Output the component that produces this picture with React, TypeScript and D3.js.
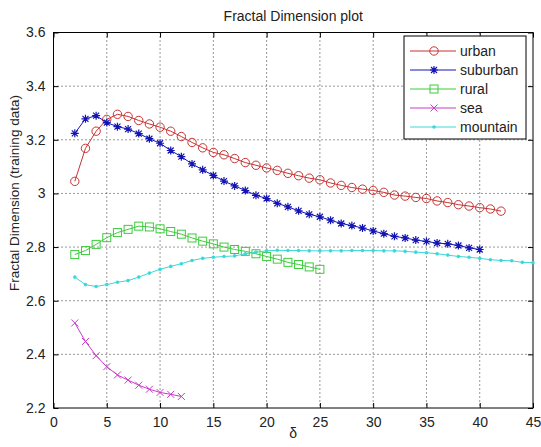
import React, { useEffect, useRef } from "react";
import * as d3 from "d3";

// values, one per integer delta
const urbanX = d3.range(2, 43);
const urban = [
    3.045, 3.168, 3.232, 3.276, 3.295, 3.287, 3.272, 3.259, 3.247, 3.232,
    3.212, 3.19, 3.17, 3.153, 3.144, 3.13, 3.115, 3.105, 3.095, 3.086,
    3.075, 3.066, 3.057, 3.051, 3.039, 3.03, 3.022, 3.016, 3.011, 3.004,
    2.994, 2.99, 2.985, 2.981, 2.972, 2.966, 2.958, 2.953, 2.947, 2.942,
    2.934
];
const suburbanX = d3.range(2, 41);
const suburban = [
    3.224, 3.278, 3.29, 3.264, 3.249, 3.24, 3.223, 3.204, 3.187, 3.16,
    3.137, 3.11, 3.088, 3.067, 3.046, 3.028, 3.011, 2.993, 2.981, 2.963,
    2.95, 2.935, 2.922, 2.913, 2.9, 2.888, 2.88, 2.871, 2.86, 2.85,
    2.84, 2.834, 2.826, 2.821, 2.815, 2.812, 2.806, 2.797, 2.791
];
const ruralX = d3.range(2, 26);
const rural = [
    2.772, 2.787, 2.81, 2.835, 2.854, 2.866, 2.878, 2.875, 2.868, 2.858,
    2.848, 2.834, 2.822, 2.812, 2.8, 2.791, 2.784, 2.775, 2.765, 2.755,
    2.743, 2.735, 2.726, 2.717
];
const seaX = d3.range(2, 13);
const sea = [2.517, 2.448, 2.395, 2.354, 2.323, 2.304, 2.285, 2.27, 2.258, 2.251, 2.243];
const mountainX = d3.range(2, 46);
const mountain = [
    2.688, 2.66, 2.653, 2.66, 2.669, 2.675, 2.688, 2.703, 2.717, 2.728,
    2.738, 2.75, 2.758, 2.762, 2.765, 2.767, 2.775, 2.781, 2.786, 2.788,
    2.787, 2.787, 2.786, 2.786, 2.786, 2.786, 2.787, 2.787, 2.787, 2.786,
    2.786, 2.784, 2.781, 2.779, 2.775, 2.77, 2.765, 2.762, 2.758, 2.753,
    2.75, 2.749, 2.743, 2.742
];

const xTicks = d3.range(0, 46, 5);
const yTicks = [2.2, 2.4, 2.6, 2.8, 3, 3.2, 3.4, 3.6];

const seriesList = [
    { name: "urban", xs: urbanX, ys: urban, color: "#c83232", marker: "circle" },
    { name: "suburban", xs: suburbanX, ys: suburban, color: "#1414b4", marker: "star" },
    { name: "rural", xs: ruralX, ys: rural, color: "#3ccc3c", marker: "square" },
    { name: "sea", xs: seaX, ys: sea, color: "#c83cc8", marker: "cross" },
    { name: "mountain", xs: mountainX, ys: mountain, color: "#3cd8d8", marker: "dot" },
];

const FONT = "Liberation Sans, Arial, sans-serif";

const drawMarker = (g: any, kind: string, cx: number, cy: number, color: string) => {
    if (kind === "circle") {
        g.append("circle").attr("cx", cx).attr("cy", cy).attr("r", 4.2)
            .attr("fill", "none").attr("stroke", color).attr("stroke-width", 1);
    } else if (kind === "square") {
        g.append("rect").attr("x", cx - 4).attr("y", cy - 4).attr("width", 8).attr("height", 8)
            .attr("fill", "none").attr("stroke", color).attr("stroke-width", 1);
    } else if (kind === "cross") {
        const s = 3.5;
        g.append("path").attr("d", `M${cx - s},${cy - s}L${cx + s},${cy + s}M${cx - s},${cy + s}L${cx + s},${cy - s}`)
            .attr("stroke", color).attr("stroke-width", 1);
    } else if (kind === "star") {
        const s = 4, d = 3;
        g.append("path")
            .attr("d", `M${cx - s},${cy}L${cx + s},${cy}M${cx},${cy - s}L${cx},${cy + s}M${cx - d},${cy - d}L${cx + d},${cy + d}M${cx - d},${cy + d}L${cx + d},${cy - d}`)
            .attr("stroke", color).attr("stroke-width", 1.2);
    } else {
        g.append("circle").attr("cx", cx).attr("cy", cy).attr("r", 1.8).attr("fill", color);
    }
};

const FractalChart: React.FC = () => {
    const svgRef = useRef<SVGSVGElement>(null);

    useEffect(() => {
        if (!svgRef.current) return;
        const W = 541, H = 447;
        const margin = { top: 32.5, right: 8, bottom: 39, left: 53.5 };
        const width = W - margin.left - margin.right;
        const height = H - margin.top - margin.bottom;

        const svg = d3.select(svgRef.current);
        svg.selectAll("*").remove();
        svg.attr("width", W).attr("height", H);
        svg.append("rect").attr("width", W).attr("height", H).attr("fill", "#fff");

        const x = d3.scaleLinear().domain([0, 45]).range([0, width]);
        const y = d3.scaleLinear().domain([2.2, 3.6]).range([height, 0]);

        const g = svg.append("g").attr("transform", `translate(${margin.left},${margin.top})`);

        // dotted grid
        g.append("g").selectAll("line").data(xTicks.slice(1, -1)).enter().append("line")
            .attr("x1", d => x(d)).attr("x2", d => x(d)).attr("y1", 0).attr("y2", height)
            .attr("stroke", "#333").attr("stroke-width", 1).attr("stroke-dasharray", "1,3");
        g.append("g").selectAll("line").data(yTicks.slice(1, -1)).enter().append("line")
            .attr("x1", 0).attr("x2", width).attr("y1", d => y(d)).attr("y2", d => y(d))
            .attr("stroke", "#333").attr("stroke-width", 1).attr("stroke-dasharray", "1,3");

        // axes: ticks point inward, on all four sides
        const styleAxis = (sel: any) => {
            sel.select(".domain").remove();
            sel.selectAll("line").attr("stroke", "#000");
            sel.selectAll("text").attr("font-family", FONT).attr("font-size", 14).attr("fill", "#222");
        };
        g.append("g").attr("transform", `translate(0,${height})`)
            .call(d3.axisBottom(x).tickValues(xTicks).tickSize(-5).tickPadding(9).tickFormat(d3.format("d")))
            .call(styleAxis);
        g.append("g")
            .call(d3.axisTop(x).tickValues(xTicks).tickSize(-5).tickFormat(() => ""))
            .call(styleAxis);
        g.append("g")
            .call(d3.axisLeft(y).tickValues(yTicks).tickSize(-5).tickPadding(8).tickFormat(d => String(d)))
            .call(styleAxis);
        g.append("g").attr("transform", `translate(${width},0)`)
            .call(d3.axisRight(y).tickValues(yTicks).tickSize(-5).tickFormat(() => ""))
            .call(styleAxis);

        g.append("rect").attr("width", width).attr("height", height)
            .attr("fill", "none").attr("stroke", "#000").attr("stroke-width", 1);

        // series
        seriesList.forEach(s => {
            const pts = s.xs.map((v, i) => [x(v), y(s.ys[i])] as [number, number]);
            const sg = g.append("g");
            sg.append("path").attr("d", d3.line()(pts))
                .attr("fill", "none").attr("stroke", s.color).attr("stroke-width", 1);
            pts.forEach(p => drawMarker(sg, s.marker, p[0], p[1], s.color));
        });

        // legend
        const lg = svg.append("g").attr("transform", "translate(404,36)");
        lg.append("rect").attr("width", 122).attr("height", 103)
            .attr("fill", "#fff").attr("stroke", "#000").attr("stroke-width", 1);
        seriesList.forEach((s, i) => {
            const ly = 15 + i * 19;
            const row = lg.append("g");
            row.append("line").attr("x1", 6).attr("x2", 52).attr("y1", ly).attr("y2", ly)
                .attr("stroke", s.color).attr("stroke-width", 1);
            drawMarker(row, s.marker, 30, ly, s.color);
            row.append("text").attr("x", 56).attr("y", ly + 5)
                .attr("font-family", FONT).attr("font-size", 14).attr("fill", "#222")
                .text(s.name);
        });

        // labels
        svg.append("text").attr("x", margin.left + width / 2).attr("y", 21)
            .attr("text-anchor", "middle").attr("font-family", FONT).attr("font-size", 14).attr("fill", "#222")
            .text("Fractal Dimension plot");
        svg.append("text").attr("x", margin.left + width / 2).attr("y", 438)
            .attr("text-anchor", "middle").attr("font-family", FONT).attr("font-size", 14).attr("fill", "#222")
            .text("δ");
        svg.append("text")
            .attr("transform", "translate(19,193) rotate(-90)")
            .attr("text-anchor", "middle").attr("font-family", FONT).attr("font-size", 13.5).attr("fill", "#222")
            .text("Fractal Dimension (training data)");
    }, []);

    return (
        <svg ref={svgRef} style={{ position: "absolute", top: 0, left: 0 }}></svg>
    );
};

export default function App() {
    return <FractalChart />;
}
